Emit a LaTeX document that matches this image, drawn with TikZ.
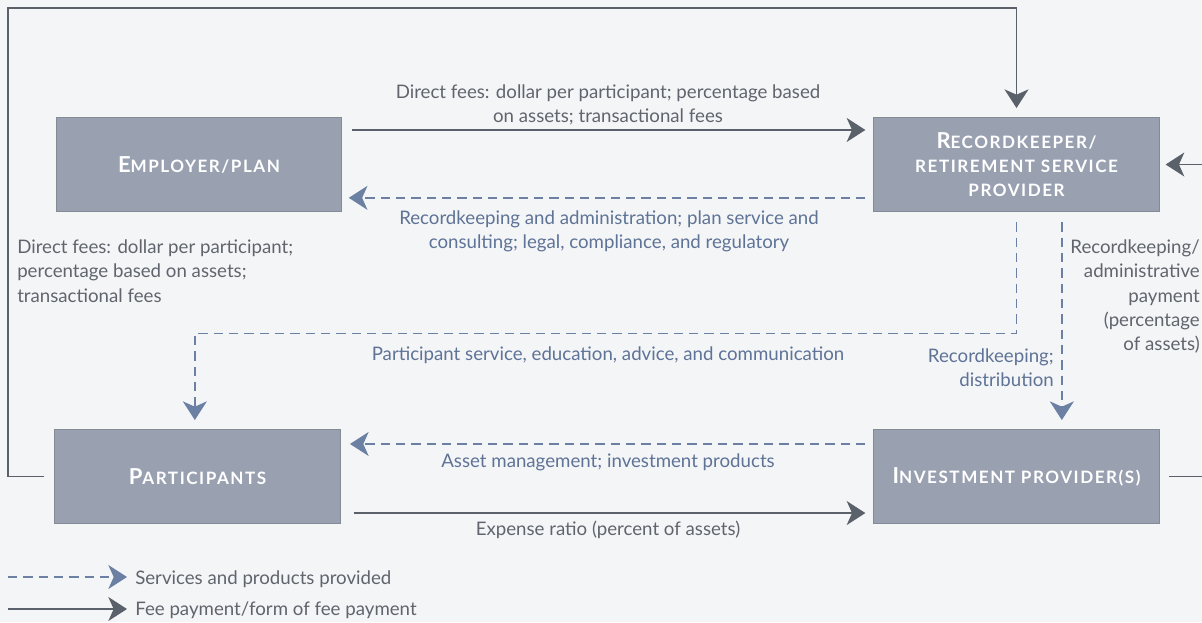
\documentclass[tikz,border=0pt]{standalone}
\usepackage{fontspec}
\setmainfont{Lato}
\usetikzlibrary{arrows.meta,positioning,calc}
\definecolor{bgcol}{HTML}{F4F5F7}
\definecolor{boxfill}{HTML}{99A1B1}
\definecolor{boxline}{HTML}{858B95}
\definecolor{feeline}{HTML}{5B616B}
\definecolor{servline}{HTML}{6C80A3}
\definecolor{feetxt}{HTML}{60656D}
\definecolor{servtxt}{HTML}{5E7396}
\newcommand\scap[2]{{\fontsize{16.5}{18}\selectfont #1}#2}
\tikzset{
	party/.style={draw=boxline, fill=boxfill, line width=0.7pt, minimum width=214pt, minimum height=71pt, text=white, align=center, inner sep=0pt, font=\fontsize{12.8}{18}\selectfont\bfseries\addfontfeature{LetterSpace=9}},
	fee/.style={draw=feeline, line width=1.1pt, -{Stealth[length=14pt,width=18pt,inset=4pt]}},
	service/.style={draw=servline, line width=1.1pt, dash pattern=on 7pt off 4.5pt, -{Stealth[length=14pt,width=18pt,inset=4pt]}},
	feetext/.style={text=feetxt, inner sep=0pt, align=center, font=\fontsize{14}{18.3}\selectfont},
	servtext/.style={text=servtxt, inner sep=0pt, align=center, font=\fontsize{14}{18.3}\selectfont}
}
\begin{document}
\begin{tikzpicture}[x=0.75pt, y=-0.75pt]
			%%%%% START %%%%%
			
			\useasboundingbox (0,0) rectangle (1202,622);
			\clip (0,0) rectangle (1202,622);
			\fill[bgcol] (0,0) rectangle (1202,622);
			
			\node[party] (employer) at (199,164.5) {\scap{E}MPLOYER/PLAN};
			\node[party] (rec) at (1016.5,164.5) {\scap{R}ECORDKEEPER/\\RETIREMENT SERVICE\\PROVIDER};
			\node[party] (part) at (197.5,476.5) {\scap{P}ARTICIPANTS};
			\node[party] (inv) at (1016.5,476.5) {\scap{I}NVESTMENT PROVIDER(S)};
			
			% employer <-> recordkeeper
			\draw[fee, shorten >=6pt] ([xshift=7.5pt,yshift=25.9pt]employer.east) -- ([yshift=25.9pt]rec.west);
			\node[feetext] (feeplan) at (608,105) {Direct fees: dollar per participant; percentage based\\on assets; transactional fees};
			\draw[service, shorten >=5pt] ([xshift=-6pt,yshift=-25pt]rec.west) -- ([yshift=-25pt]employer.east);
			\node[servtext] (servplan) at (609,231.5) {Recordkeeping and administration; plan service and\\consulting; legal, compliance, and regulatory};
			
			% participants -> recordkeeper, round the top
			\draw[fee, shorten >=6.5pt] ([xshift=-7.5pt]part.west) -| (8,8) -| (rec.north);
			\node[feetext, anchor=west, align=left] (feepart) at (17,271) {Direct fees: dollar per participant;\\percentage based on assets;\\transactional fees};
			
			% recordkeeper -> participants, investment provider
			\draw[service, shorten >=6.5pt] ([yshift=-7.5pt]rec.south) -- ++(0,111) -| ([xshift=-2pt]part.north);
			\node[servtext] (servpart) at (608,355.5) {Participant service, education, advice, and communication};
			\draw[service, shorten >=6.5pt] ([xshift=34pt,yshift=-7.5pt]rec.south) -- ([xshift=34pt]inv.north);
			\node[servtext, anchor=east, align=right] (servinv) at (1054,367.5) {Recordkeeping;\\distribution};
			
			% investment provider -> recordkeeper, round the right
			\draw[fee, shorten >=4.5pt] ([xshift=7pt]inv.east) -- ++(60,0) |- (rec.east);
			\node[feetext, anchor=east, align=right] (feerec) at (1200,296.5) {Recordkeeping/\\administrative\\payment\\(percentage\\of assets)};
			
			% participants <-> investment provider
			\draw[service, shorten >=7pt] ([xshift=-6pt,yshift=24.4pt]inv.west) -- ([yshift=24.4pt]part.east);
			\node[servtext] (servasset) at (608,462.5) {Asset management; investment products};
			\draw[fee, shorten >=6pt] ([xshift=10pt,yshift=-27.4pt]part.east) -- ([yshift=-27.4pt]inv.west);
			\node[feetext] (feeinv) at (608,529.5) {Expense ratio (percent of assets)};
			
			% key
			\coordinate (keyserv) at (8,577);
			\node[feetext, anchor=west] (keyservtext) at (135,579) {Services and products provided};
			\draw[service, shorten >=6pt] (keyserv) -- (keyserv -| keyservtext.west);
			\coordinate (keyfee) at (8,609);
			\node[feetext, anchor=west] (keyfeetext) at (135,610) {Fee payment/form of fee payment};
			\draw[fee, shorten >=6pt] (keyfee) -- (keyfee -| keyfeetext.west);
			
			%%%%% END %%%%%
\end{tikzpicture}
\end{document}
